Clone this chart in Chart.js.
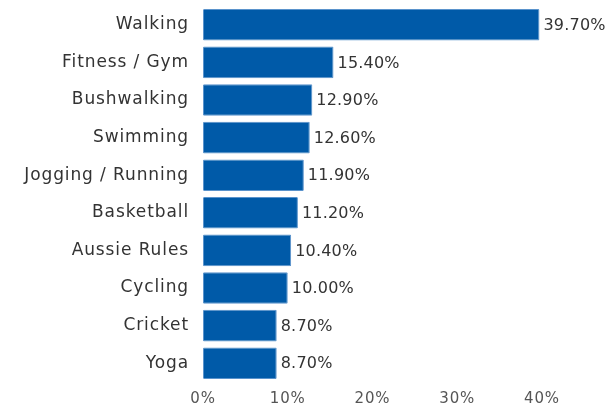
<!DOCTYPE html>
<html>
<head>
<meta charset="utf-8">
<script src="https://cdn.jsdelivr.net/npm/chart.js@4/dist/chart.umd.min.js"></script>
<style>
  body { margin: 0; background: #fff; }
  #wrap { width: 611px; height: 403px; }
</style>
</head>
<body>
<div id="wrap"><canvas id="sportChart"></canvas></div>
<script>
// data
const activities = ['Walking', 'Fitness / Gym', 'Bushwalking', 'Swimming', 'Jogging / Running',
  'Basketball', 'Aussie Rules', 'Cycling', 'Cricket', 'Yoga'];
const shares = [39.7, 15.4, 12.9, 12.6, 11.9, 11.2, 10.4, 10.0, 8.7, 8.7];
const xTicks = [0, 10, 20, 30, 40];

const FONT = "'DejaVu Sans', sans-serif";

// a bit of letter spacing so the text is closer to the original (Montserrat-like) width
const spacing = {
  id: 'spacing',
  beforeLayout(chart) { chart.ctx.letterSpacing = '0.9px'; },
  beforeDraw(chart) { chart.ctx.letterSpacing = '0.9px'; }
};

// value labels at the end of each bar
const valueLabels = {
  id: 'valueLabels',
  afterDatasetsDraw(chart) {
    const ctx = chart.ctx;
    const meta = chart.getDatasetMeta(0);
    ctx.save();
    ctx.letterSpacing = '0.2px';
    ctx.font = '16px ' + FONT;
    ctx.fillStyle = '#333';
    ctx.textAlign = 'left';
    ctx.textBaseline = 'middle';
    meta.data.forEach((bar, i) => {
      ctx.fillText(shares[i].toFixed(2) + '%', bar.x + 4, bar.y + 1);
    });
    ctx.restore();
  }
};

const sportChart = new Chart(document.getElementById('sportChart'), {
  type: 'bar',
  data: {
    labels: activities,
    datasets: [{
      data: shares,
      backgroundColor: '#005aa8',
      borderColor: '#5a93cc',
      borderWidth: 1,
      borderRadius: 1,
      borderSkipped: false,
      categoryPercentage: 0.84,
      barPercentage: 1
    }]
  },
  options: {
    indexAxis: 'y',
    responsive: true,
    maintainAspectRatio: false,
    animation: false,
    layout: { padding: { top: 6, right: 69, bottom: 0, left: 0 } },
    plugins: {
      legend: { display: false },
      tooltip: { enabled: false }
    },
    scales: {
      x: {
        min: 0,
        max: 40,
        afterBuildTicks: s => { s.ticks = xTicks.map(v => ({ value: v })); },
        afterFit: s => { s.height = 21; },
        grid: { display: false, drawTicks: false },
        border: { display: false },
        ticks: {
          padding: 8,
          color: '#555',
          font: { family: FONT, size: 15 },
          callback: v => v + '%'
        }
      },
      y: {
        grid: { display: false },
        border: { display: false },
        afterFit: s => { s.width = 203; s.paddingTop = 0; s.paddingBottom = 0; },
        ticks: {
          padding: 6,
          color: '#333',
          font: { family: FONT, size: 17 }
        }
      }
    }
  },
  plugins: [spacing, valueLabels]
});
</script>
</body>
</html>
